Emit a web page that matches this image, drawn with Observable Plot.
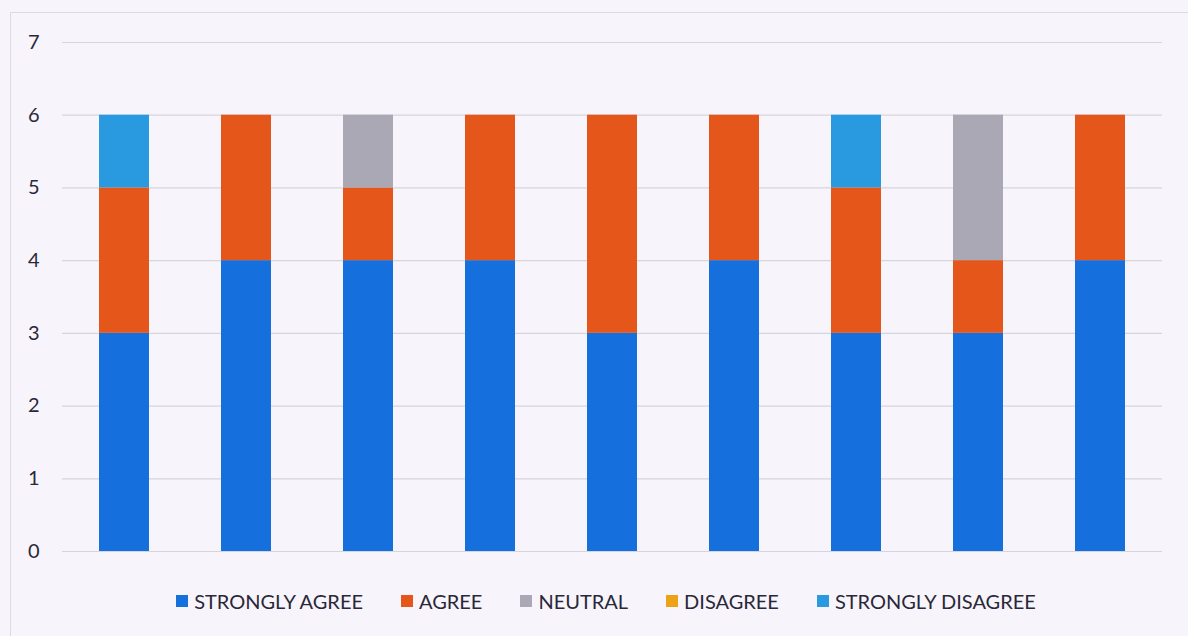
<!DOCTYPE html>
<html>
<head>
<meta charset="utf-8">
<script src="https://cdn.jsdelivr.net/npm/d3@7"></script>
<script src="https://cdn.jsdelivr.net/npm/@observablehq/plot@0.6"></script>
<style>
  html, body { margin: 0; padding: 0; background: #f7f5fb; }
  #wrap { position: relative; width: 1188px; height: 636px; overflow: hidden; }
  #frame { position: absolute; left: 10px; top: 12px; width: 1190px; height: 640px; border-left: 1.5px solid #dcdae2; border-top: 1.5px solid #dcdae2; }
  #chart { position: absolute; left: 0; top: 0; }
  #legend { position: absolute; left: 0; top: 589px; width: 1188px; padding-left: 24px; box-sizing: border-box;
    display: flex; justify-content: center; gap: 38px; font-family: Lato, "Open Sans", sans-serif; font-size: 20px; color: #2a2838; }
  .item { display: flex; align-items: center; gap: 6px; }
  .sw { width: 12px; height: 12px; display: inline-block; }
</style>
</head>
<body>
<div id="wrap">
  <div id="frame"></div>
  <div id="chart"></div>
  <div id="legend"></div>
</div>
<script>
const items = [1, 2, 3, 4, 5, 6, 7, 8, 9];
const categories = ["STRONGLY AGREE", "AGREE", "NEUTRAL", "DISAGREE", "STRONGLY DISAGREE"];
const colors = ["#1570dd", "#e4561a", "#a9a8b4", "#eea316", "#2a9ae0"];
const stronglyAgree    = [3, 4, 4, 4, 3, 4, 3, 3, 4];
const agree            = [2, 2, 1, 2, 3, 2, 2, 1, 2];
const neutral          = [0, 0, 1, 0, 0, 0, 0, 2, 0];
const disagree         = [0, 0, 0, 0, 0, 0, 0, 0, 0];
const stronglyDisagree = [1, 0, 0, 0, 0, 0, 1, 0, 0];
const yTicks = [0, 1, 2, 3, 4, 5, 6, 7];

const series = [stronglyAgree, agree, neutral, disagree, stronglyDisagree];
const data = [];
series.forEach((vals, si) => {
  vals.forEach((v, i) => data.push({item: items[i], category: categories[si], value: v}));
});

const chart = Plot.plot({
  width: 1188,
  height: 575,
  marginTop: 42,
  marginBottom: 24,
  marginLeft: 62,
  marginRight: 26,
  style: { background: "transparent", fontFamily: "Lato, 'Open Sans', sans-serif", fontSize: "20px", color: "#2a2838" },
  x: { domain: items, paddingInner: 0.59, paddingOuter: 0.295, axis: null },
  y: { domain: [0, 7], ticks: yTicks, tickFormat: "d", tickSize: 0, tickPadding: 23, label: null, grid: false },
  color: { domain: categories, range: colors },
  marks: [
    Plot.ruleY(yTicks, { stroke: "#d6d5dd", strokeWidth: 1.2 }),
    Plot.barY(data, { x: "item", y: "value", fill: "category", order: categories })
  ]
});
document.getElementById("chart").appendChild(chart);

const legend = document.getElementById("legend");
categories.forEach((c, i) => {
  const it = document.createElement("div");
  it.className = "item";
  it.innerHTML = `<span class="sw" style="background:${colors[i]}"></span><span>${c}</span>`;
  legend.appendChild(it);
});
</script>
</body>
</html>
